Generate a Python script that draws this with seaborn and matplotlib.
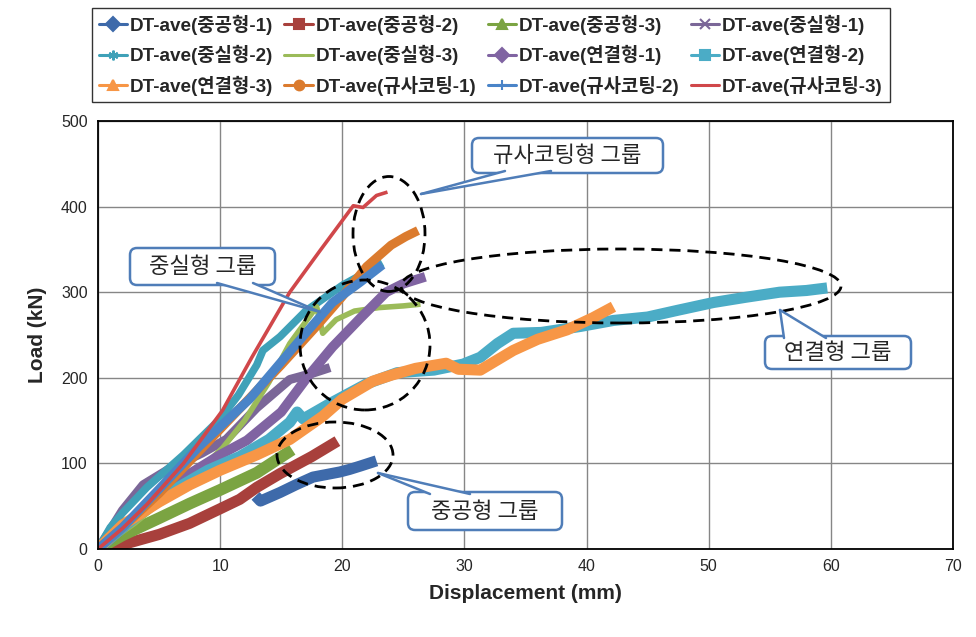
import numpy as np
import pandas as pd
import matplotlib
matplotlib.use("Agg")
from matplotlib import pyplot as plt
from matplotlib.patches import Ellipse, FancyBboxPatch, Polygon
from matplotlib.lines import Line2D
import seaborn as sns

# Load-displacement curves (Displacement mm, Load kN)
# 중공형 (hollow) group
hl1_x = [12.9, 13.3, 14.9, 16.2, 17.6, 19.8, 20.6, 21.5, 22.8]
hl1_y = [62, 56, 66, 75, 84, 90, 93, 97, 103]
hl2_x = [0, 2, 5, 7.5, 10, 11.6, 13, 14.9, 17.5, 19.6]
hl2_y = [0, 5, 17, 30, 47, 58, 72, 88, 108, 126]
hl3_x = [0, 2, 5, 7.5, 10, 13, 15.9]
hl3_y = [0, 16, 36, 53, 69, 89, 116]

# 중실형 (solid) group
sd1_x = [0, 1, 2, 3.7, 6, 8.5, 10.5, 13, 15.7, 17.5, 19]
sd1_y = [0, 22, 45, 75, 95, 112, 128, 165, 198, 205, 212]
sd2_x = [0, 1, 2, 4, 7, 10, 11.5, 13, 13.5, 14.9, 17, 20, 23.3]
sd2_y = [0, 25, 42, 72, 110, 152, 180, 215, 232, 248, 278, 308, 334]
sd3_x = [0, 3, 6, 8.5, 10.2, 12, 14, 15.7, 17.9, 18.4, 19.5, 21, 23, 25, 26.4]
sd3_y = [0, 30, 65, 95, 118, 150, 195, 240, 283, 252, 268, 278, 282, 284, 286]

# 연결형 (connected) group
cn1_x = [0, 2.5, 5, 7.5, 10, 12.2, 15, 17.1, 19.2, 21.5, 23.6, 25, 26.8]
cn1_y = [0, 30, 60, 88, 110, 127, 160, 200, 236, 270, 300, 310, 318]
cn2_x = [0, 2, 4, 6.1, 9, 11.6, 14, 15.7, 16.3, 16.8, 19, 22, 24.5, 27.5, 29.9, 31.3, 32.7,
         34, 36.3, 39.5, 42.2, 45, 47.5, 50.4, 53, 55.8, 58, 59.7]
cn2_y = [0, 25, 48, 68, 92, 108, 128, 148, 160, 152, 170, 193, 206, 209, 216, 224, 240,
         252, 253, 260, 267, 271, 279, 288, 294, 300, 302, 305]
cn3_x = [0, 2, 5, 7.5, 10, 13, 15.7, 18.4, 20, 22.5, 24, 26, 28.5, 29.5, 31.3, 34, 36,
         38.4, 40.5, 42.2]
cn3_y = [0, 28, 55, 75, 92, 110, 128, 155, 175, 196, 203, 211, 217, 210, 209, 232, 245,
         256, 270, 283]

# 규사코팅 (sand coated) group
sc1_x = [0, 2, 5, 10, 15, 18, 20, 22, 24, 25.2, 26.2]
sc1_y = [0, 25, 65, 140, 215, 262, 295, 330, 355, 365, 372]
sc2_x = [0, 2, 5, 8.3, 12.4, 15.2, 17, 19.2, 21.5, 23.3]
sc2_y = [0, 25, 70, 120, 175, 222, 252, 288, 312, 332]
sc3_x = [0, 2, 4, 7, 10.2, 12.6, 15.7, 18.2, 20.9, 21.7, 22.8, 23.7]
sc3_y = [0, 24, 52, 100, 162, 224, 300, 349, 401, 399, 413, 417]

labels = ['DT-ave(중공형-1)', 'DT-ave(중공형-2)', 'DT-ave(중공형-3)', 'DT-ave(중실형-1)',
          'DT-ave(중실형-2)', 'DT-ave(중실형-3)', 'DT-ave(연결형-1)', 'DT-ave(연결형-2)',
          'DT-ave(연결형-3)', 'DT-ave(규사코팅-1)', 'DT-ave(규사코팅-2)', 'DT-ave(규사코팅-3)']

xs = [hl1_x, hl2_x, hl3_x, sd1_x, sd2_x, sd3_x, cn1_x, cn2_x, cn3_x, sc1_x, sc2_x, sc3_x]
ys = [hl1_y, hl2_y, hl3_y, sd1_y, sd2_y, sd3_y, cn1_y, cn2_y, cn3_y, sc1_y, sc2_y, sc3_y]

colors = ['#3E6AAA', '#A8403C', '#7BA442', '#7B6798', '#3FA1B8', '#9BBB59',
          '#8064A2', '#4BACC6', '#F79646', '#DB7B2E', '#4A84C8', '#D0474A']
widths = [8, 8, 8.5, 6.5, 5.5, 4, 7, 8, 8, 6.5, 6.5, 2.6]
markers = ['D', 's', '^', 'x', (6, 2, 0), None, 'D', 's', '^', 'o', '+', None]

sns.set_style("white")
plt.rcParams['font.family'] = ['Liberation Sans', 'Noto Sans CJK KR']

fig = plt.figure(figsize=(9.76, 6.37), dpi=100)
ax = fig.add_axes([98 / 976, 1 - 549 / 637, (953 - 98) / 976, (549 - 121) / 637])

for i in range(len(labels)):
    df = pd.DataFrame({'x': xs[i], 'y': ys[i]})
    sns.lineplot(data=df, x='x', y='y', ax=ax, sort=False, estimator=None,
                 color=colors[i], lw=widths[i], solid_capstyle='butt', zorder=2 + i * 0.01)

ax.set_xlim(0, 70)
ax.set_ylim(0, 500)
ax.set_xticks(np.arange(0, 71, 10))
ax.set_yticks(np.arange(0, 501, 100))
ax.grid(True, color='#868686', lw=1)
ax.set_axisbelow(True)
for s in ax.spines.values():
    s.set_color('black')
    s.set_linewidth(1.3)
ax.tick_params(direction='out', length=4, width=1, color='black', labelsize=11.5)
ax.set_xlabel('Displacement (mm)', fontsize=15, fontweight='bold', labelpad=7)
ax.set_ylabel('Load (kN)', fontsize=15, fontweight='bold', labelpad=10)

# legend, row-major order as in the original
handles = [Line2D([], [], color=colors[i], lw=2.2, marker=markers[i], markersize=7,
                  markeredgewidth=1.5) for i in range(12)]
order = [r * 4 + c for c in range(4) for r in range(3)]
leg = fig.legend([handles[k] for k in order], [labels[k] for k in order],
                 loc='upper left', bbox_to_anchor=(92 / 976, 1 - 8 / 637), ncol=4,
                 frameon=True, fancybox=False, edgecolor='black',
                 prop=dict(weight='bold', size=13.6), handlelength=1.5,
                 handletextpad=0.15, columnspacing=0.6, labelspacing=0.55,
                 borderpad=0.35, borderaxespad=0)
leg.get_frame().set_linewidth(1.0)

# dashed group ellipses (pixel positions of the picture)
tr = fig.dpi_scale_trans


def P(px, py):
    return px / 100, (637 - py) / 100


for cx, cy, w, h in [(389, 234, 72, 115), (365, 345, 130, 130),
                     (621, 286, 440, 74), (335, 455, 116, 66)]:
    fig.add_artist(Ellipse(P(cx, cy), w / 100, h / 100, transform=tr, fill=False,
                           ec='black', lw=2.0, ls=(0, (4, 2.5)), zorder=5))

# callout boxes
blue = '#4F7DB8'


def callout(text, box, base, tip):
    x0, y0, x1, y1 = box
    fig.add_artist(FancyBboxPatch(P(x0, y1), (x1 - x0) / 100, (y1 - y0) / 100,
                                  boxstyle='round,pad=0,rounding_size=0.07', transform=tr,
                                  fc='white', ec=blue, lw=1.8, zorder=6))
    fig.add_artist(Polygon([P(*base[0]), P(*base[1]), P(*tip)], closed=True, transform=tr,
                           fc='white', ec='none', zorder=7))
    for b in base:
        fig.add_artist(Line2D([P(*b)[0], P(*tip)[0]], [P(*b)[1], P(*tip)[1]],
                              transform=tr, color=blue, lw=1.8, zorder=8))
    cx, cy = P((x0 + x1) / 2, (y0 + y1) / 2)
    fig.text(cx / 9.76, cy / 6.37, text, ha='center', va='center', fontsize=16,
             family=['Noto Sans CJK KR'], zorder=9)


callout('규사코팅형 그룹', (472, 138, 663, 173), [(505, 171), (551, 171)], (421, 194))
callout('중실형 그룹', (130, 248, 275, 285), [(217, 283), (253, 283)], (320, 312))
callout('연결형 그룹', (765, 336, 911, 369), [(784, 338), (826, 338)], (780, 310))
callout('중공형 그룹', (408, 492, 562, 530), [(430, 494), (470, 494)], (378, 473))

fig.savefig('out.png', dpi=100)
